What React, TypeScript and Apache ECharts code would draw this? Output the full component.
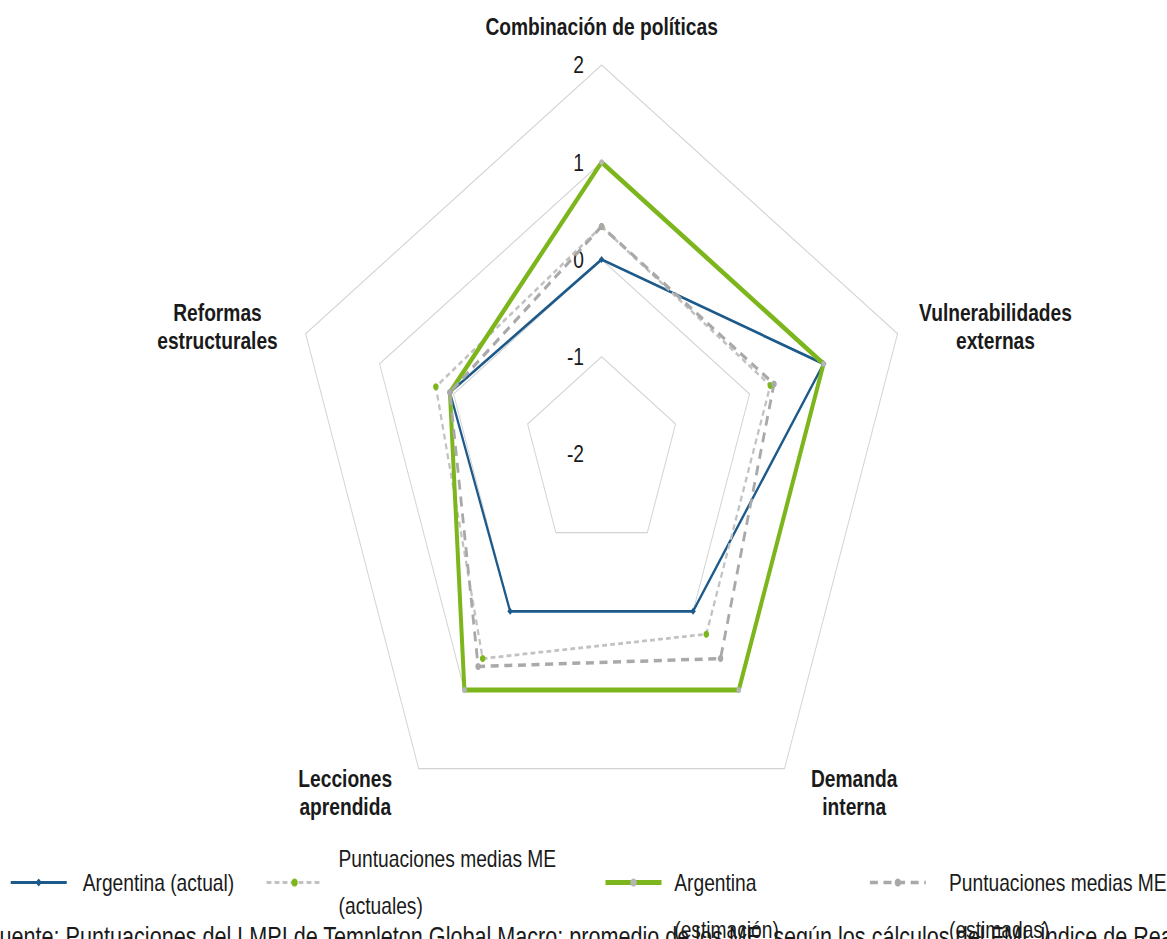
import React, { useEffect, useRef } from "react";
import * as echarts from "echarts";

// ---- data (clockwise from top) ----
const categories = [
  "Combinación de políticas",
  "Vulnerabilidades\nexternas",
  "Demanda\ninterna",
  "Lecciones\naprendida",
  "Reformas\nestructurales",
];
const argentinaActual = [0.0, 1.0, 0.0, 0.0, 0.05];
const mediasActuales = [0.34, 0.28, 0.29, 0.6, 0.24];
const argentinaEstimacion = [1.0, 1.0, 1.0, 1.0, 0.05];
const mediasEstimadas = [0.34, 0.33, 0.6, 0.7, 0.05];
const axisMin = -2;
const axisMax = 2;
const seriesNames = [
  "Argentina (actual)",
  "Puntuaciones medias ME\n(actuales)",
  "Argentina\n(estimación)",
  "Puntuaciones medias ME\n(estimadas)",
];
// legend items whose text hangs below the row in the reference
const droppedLegendItems = [seriesNames[2], seriesNames[3]];
const sourceText =
  "Fuente: Puntuaciones del LMPI de Templeton Global Macro; promedio de los ME, según los cálculos del FMI. Índice de Reacción de Políticas";

// ---- styles ----
const FONT = "Liberation Sans";
const TXT = "#1a1a1a";
const BLUE = "#1d5a8a";
const GREEN = "#7db61c";
const LIGHT = "#c2c2c2";
const GRAY = "#a9a9a9";

// ECharts places indicators counter-clockwise; map clockwise data into that order
const ccwOrder = [0, 4, 3, 2, 1];
const namePads: Record<number, number[]> = {
  0: [0, 0, 0, 0],
  1: [0, 0, 0, 4],
  2: [9, 0, 0, 19],
  3: [9, 19, 0, 0],
  4: [0, 12, 0, 0],
};

const seriesStyles = [
  { color: BLUE, width: 2.8, type: "solid" as any, symbol: "diamond", size: 7, mark: BLUE },
  { color: LIGHT, width: 2.8, type: [6, 4] as any, symbol: "circle", size: 7, mark: GREEN },
  { color: GREEN, width: 5, type: "solid" as any, symbol: "circle", size: 6, mark: "#b5b5b5" },
  { color: GRAY, width: 3.5, type: [10, 7] as any, symbol: "circle", size: 7, mark: GRAY },
];
const legendPads = [
  [0, 0, 0, 15],
  [0, 20, 0, 15],
  [0, 73, 0, 11],
  [0, 0, 0, 24],
];

export default function App() {
  const ref = useRef<HTMLDivElement>(null);
  useEffect(() => {
    if (!ref.current) return;
    const chart = echarts.init(ref.current, undefined, { renderer: "svg" });
    const allValues = [argentinaActual, mediasActuales, argentinaEstimacion, mediasEstimadas];

    const indicator = ccwOrder.map((ci, k) => {
      const ind: any = {
        name: categories[ci],
        min: axisMin,
        max: axisMax,
        nameTextStyle: { padding: namePads[ci] },
      };
      if (k === 0) ind.axisLabel = { show: true };
      return ind;
    });

    const radarData = allValues.map((vals, i) => {
      const s = seriesStyles[i];
      return {
        name: seriesNames[i],
        value: ccwOrder.map((ci) => vals[ci]),
        symbol: s.symbol,
        symbolSize: s.size,
        lineStyle: { color: s.color, width: s.width, type: s.type },
        itemStyle: { color: s.mark },
      };
    });

    const legendSeries = seriesNames.map((n, i) => {
      const s = seriesStyles[i];
      return {
        type: "line",
        name: n,
        data: [],
        symbol: s.symbol,
        symbolSize: s.size,
        lineStyle: { color: s.color, width: s.width, type: s.type },
        itemStyle: { color: s.mark },
      };
    });

    const richC = { align: "center", fontSize: 24, fontWeight: "bold", fontFamily: FONT, color: TXT, lineHeight: 28 };

    chart.setOption({
      animation: false,
      backgroundColor: "#ffffff",
      textStyle: { fontFamily: FONT },
      grid: { show: false, left: 0, top: 0, width: 1, height: 1 },
      xAxis: { type: "category", show: false },
      yAxis: { type: "value", show: false },
      radar: {
        center: [752, 454],
        radius: 389,
        startAngle: 90,
        shape: "polygon",
        splitNumber: 4,
        axisNameGap: 24,
        axisName: {
          color: TXT,
          fontSize: 24,
          fontWeight: "bold",
          fontFamily: FONT,
          lineHeight: 28,
          formatter: (name: string) =>
            name
              .split("\n")
              .map((s) => `{c|${s}}`)
              .join("\n"),
          rich: { c: richC },
        },
        axisLine: { show: false },
        axisTick: { show: false },
        axisLabel: { show: false, fontSize: 24, color: TXT, fontFamily: FONT, margin: 22 },
        splitLine: { lineStyle: { color: "#d3d3d3", width: 1.2 } },
        splitArea: { show: false },
        indicator,
      },
      legend: {
        left: 12,
        top: 812,
        width: 1700,
        padding: 0,
        orient: "horizontal",
        itemGap: 39,
        itemWidth: 70,
        itemHeight: 10,
        lineStyle: { width: "inherit" },
        formatter: (name: string) => (droppedLegendItems.indexOf(name) >= 0 ? " \n" + name : name),
        textStyle: { fontSize: 24, lineHeight: 47, color: TXT, fontFamily: FONT, padding: legendPads[0] },
        data: seriesNames.map((n, i) => ({ name: n, textStyle: { padding: legendPads[i] } })),
      },
      graphic: [
        {
          type: "text",
          left: -17,
          top: 923,
          z: -1,
          style: { text: sourceText, fontSize: 27, fill: TXT, fontFamily: FONT },
        },
      ],
      series: [
        {
          type: "radar",
          z: 3,
          data: radarData,
        },
        ...legendSeries,
      ],
    });
    return () => chart.dispose();
  }, []);

  return (
    <div
      style={{
        position: "absolute",
        left: 0,
        top: 0,
        width: 1167,
        height: 939,
        overflow: "hidden",
        background: "#fff",
      }}
    >
      <div
        ref={ref}
        style={{ width: 1459, height: 939, transform: "scaleX(0.8)", transformOrigin: "0 0" }}
      />
    </div>
  );
}
